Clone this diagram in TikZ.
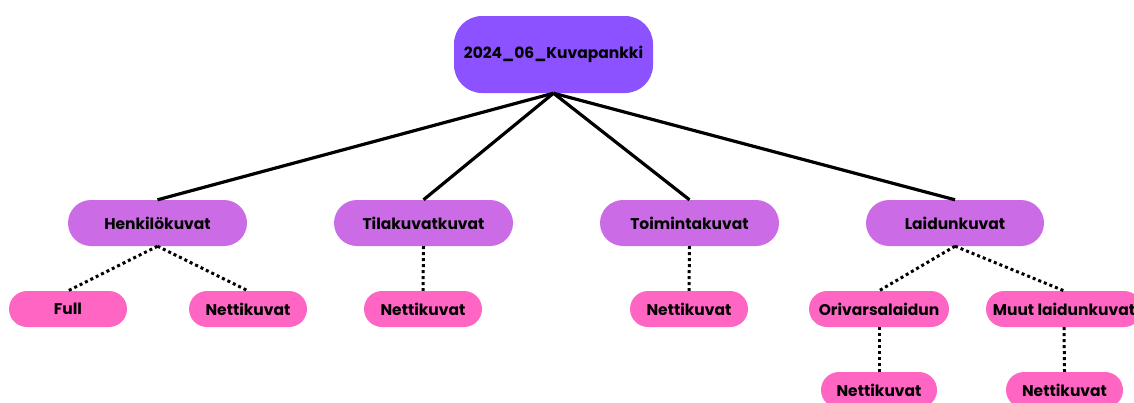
\documentclass[tikz,border=0pt]{standalone}
\usepackage{fontspec}
\setmainfont{Poppins}
\definecolor{rootc}{HTML}{8C52FF}
\definecolor{midc}{HTML}{CB6CE6}
\definecolor{leafc}{HTML}{FF66C4}
\begin{document}
\begin{tikzpicture}[x=1pt,y=-1pt,
  base/.style={inner sep=0pt, font=\fontsize{15.5}{18}\selectfont\bfseries, text=black},
  rootbox/.style={base, fill=rootc, rounded corners=28pt, minimum width=199pt, minimum height=77pt},
  midbox/.style={base, fill=midc, rounded corners=23pt, minimum width=179pt, minimum height=46pt},
  leafbox/.style={base, fill=leafc, rounded corners=18pt, minimum height=36pt},
  solidlink/.style={line width=3.2pt, black},
  dotlink/.style={line width=3pt, black, dash pattern=on 3pt off 3pt}]
\useasboundingbox (0,0) rectangle (1134,402);
\begin{scope}
\clip (0,0) rectangle (1134,402);
\node[rootbox] (root) at (553.5,54.5) {2024\_06\_Kuvapankki};
\node[midbox] (hen) at (157.5,223) {Henkilökuvat};
\node[midbox] (tila) at (423.5,223) {Tilakuvatkuvat};
\node[midbox] (toim) at (689.5,223) {Toimintakuvat};
\node[midbox, minimum width=178pt] (laid) at (955,223) {Laidunkuvat};
\node[leafbox, minimum width=118pt] (full) at (68,309) {Full};
\node[leafbox, minimum width=118pt] (hnet) at (248,309) {Nettikuvat};
\node[leafbox, minimum width=118pt] (tnet) at (423,309) {Nettikuvat};
\node[leafbox, minimum width=118pt] (tonet) at (689,309) {Nettikuvat};
\node[leafbox, minimum width=140pt] (ori) at (879,309) {Orivarsalaidun};
\node[leafbox, minimum width=156pt] (muut) at (1064,309) {Muut laidunkuvat};
\node[leafbox, minimum width=116pt] (onet) at (879,390) {Nettikuvat};
\node[leafbox, minimum width=117pt] (mnet) at (1064.5,390) {Nettikuvat};
\end{scope}
\draw[solidlink] (root.south) -- (hen.north);
\draw[solidlink] (root.south) -- (tila.north);
\draw[solidlink] (root.south) -- (toim.north);
\draw[solidlink] (root.south) -- (laid.north);
\draw[dotlink] (hen.south) -- (full.north);
\draw[dotlink] (hen.south) -- (hnet.north);
\draw[dotlink] (tila.south) -- (tnet.north);
\draw[dotlink] (toim.south) -- (tonet.north);
\draw[dotlink] (laid.south) -- (ori.north);
\draw[dotlink] (laid.south) -- (muut.north);
\draw[dotlink] (ori.south) -- (onet.north);
\draw[dotlink] (muut.south) -- (mnet.north);
\end{tikzpicture}
\end{document}
